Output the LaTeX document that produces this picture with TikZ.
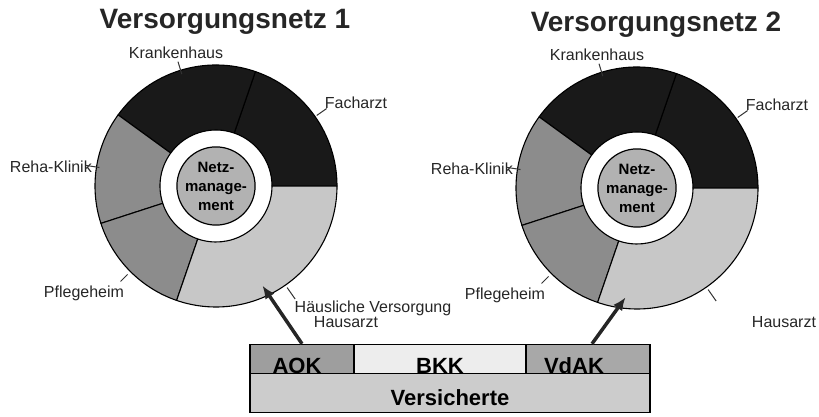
\documentclass[tikz,border=0pt]{standalone}
\usepackage{fontspec}
\setmainfont{Liberation Sans}
\usetikzlibrary{arrows.meta}

\definecolor{dunkel}{gray}{0.10}
\definecolor{mittel}{gray}{0.55}
\definecolor{hell}{gray}{0.78}
\definecolor{zentrum}{gray}{0.70}
\definecolor{aokgrau}{gray}{0.62}
\definecolor{bkkgrau}{gray}{0.93}
\definecolor{vdakgrau}{gray}{0.66}
\definecolor{versgrau}{gray}{0.80}

\begin{document}
\begin{tikzpicture}[x=1pt,y=1pt]
	\tikzstyle{sektor}=[draw=black,line width=1.1pt,line join=round]
	\tikzstyle{mitte}=[circle,draw=black,line width=1.2pt,fill=zentrum,minimum size=78pt,inner sep=0pt,align=center,font=\bfseries\fontsize{15}{19}\selectfont]
	\tikzstyle{lbl}=[inner sep=0pt,anchor=base,font=\fontsize{16}{19}\selectfont,text=black!85]
	\tikzstyle{tick}=[-,black!80,line width=1pt]
	\tikzstyle{titel}=[inner sep=0pt,anchor=base,font=\bfseries\fontsize{28}{32}\selectfont,text=black!85]
	\tikzstyle{kasse}=[draw=black,line width=1.2pt,inner xsep=0pt,inner ysep=0pt,anchor=south,text depth=0pt,text height=29pt,font=\bfseries\fontsize{22}{24}\selectfont]
	\tikzstyle{pfeil}=[-{Latex[length=13pt,width=11pt]},line width=3.5pt,black!85]

	\useasboundingbox (0,0) rectangle (819,417);

	% die beiden Netze
	\foreach \n/\cx/\cy in {1/216/231, 2/637/229} {
		\begin{scope}[shift={(\cx,\cy)}]
			\foreach \a/\b/\f in {0/71/dunkel, 71/144/dunkel, 144/198/mittel, 198/251/mittel, 251/360/hell}
				\draw[sektor,fill=\f] (\a:56) -- (\a:121) arc[start angle=\a, end angle=\b, radius=121pt]
					-- (\b:56) arc[start angle=\b, end angle=\a, radius=56pt] -- cycle;
			\node[mitte] (nm\n) at (0,0) {Netz-\\manage-\\ment};

			\node[lbl] (kh\n) at (-40,127.5) {Krankenhaus};
			\node[lbl] (fa\n) at (140,77) {Facharzt};
			\node[lbl,anchor=base east] (rk\n) at (-124,13) {Reha-Klinik};
			\node[lbl] (ph\n) at (-132,-112) {Pflegeheim};

			\draw[tick] (107:117) -- (107:130);
			\draw[tick] (35:123) -- (35:135);
			\draw[tick] (171:118) -- (171:132);
			\draw[tick] (225:125) -- (225:135);
			\draw[tick] (-55:124) -- (-55:138);

			\coordinate (ziel\n) at ({\n==1 ? -65 : -96}:110);
		\end{scope}
	}

	\node[titel] (t1) at (225,388) {Versorgungsnetz 1};
	\node[titel] (t2) at (656,385) {Versorgungsnetz 2};

	\node[lbl] (hv1) at (373,104) {Häusliche Versorgung};
	\node[lbl] (ha1) at (346,89) {Hausarzt};
	\node[lbl] (ha2) at (784,89) {Hausarzt};

	% Kassen und Versicherte
	\node[kasse,fill=aokgrau,minimum width=104pt] (aok) at (302,43) {AOK\hspace*{10pt}};
	\node[kasse,fill=bkkgrau,minimum width=172pt] (bkk) at (440,43) {BKK};
	\node[kasse,fill=vdakgrau,minimum width=124pt] (vdak) at (588,43) {VdAK\hspace*{28pt}};
	\node[kasse,fill=versgrau,minimum width=400pt,text depth=7pt,text height=32pt] (vers) at (450,4) {Versicherte};

	\draw[pfeil] (aok.north) -- (ziel1);
	\draw[pfeil] ([xshift=4pt]vdak.north) -- (ziel2);
\end{tikzpicture}
\end{document}
